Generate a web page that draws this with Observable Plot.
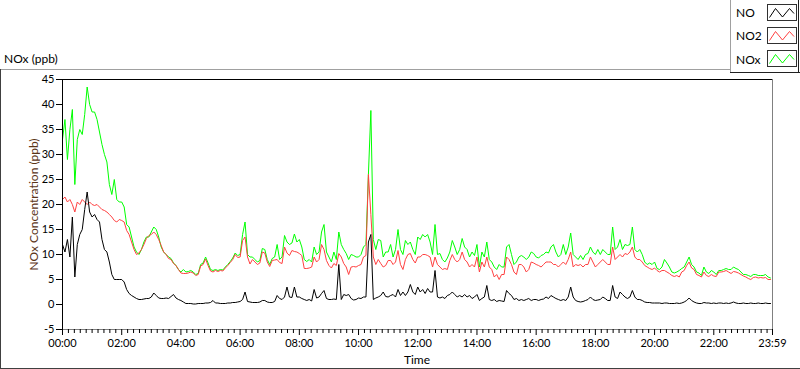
<!DOCTYPE html>
<html><head><meta charset="utf-8">
<script src="https://cdn.jsdelivr.net/npm/d3@7"></script>
<script src="https://cdn.jsdelivr.net/npm/@observablehq/plot@0.6"></script>
<style>
body{margin:0;background:#fff;}
#wrap{position:relative;width:800px;height:369px;overflow:hidden;background:#fff}
#wrap svg{position:absolute;left:0;top:0}
</style></head><body><div id="wrap"></div>
<script>
// sample times in minutes after midnight (every 5 min)
const minutes = [
0,5,10,15,20,25,30,35,40,45,50,55,60,65,70,75,80,85,90,95,100,105,110,115,
120,125,130,135,140,145,150,155,160,165,170,175,180,185,190,195,200,205,210,215,220,225,230,235,
240,245,250,255,260,265,270,275,280,285,290,295,300,305,310,315,320,325,330,335,340,345,350,355,
360,365,370,375,380,385,390,395,400,405,410,415,420,425,430,435,440,445,450,455,460,465,470,475,
480,485,490,495,500,505,510,515,520,525,530,535,540,545,550,555,560,565,570,575,580,585,590,595,
600,605,610,615,620,625,630,635,640,645,650,655,660,665,670,675,680,685,690,695,700,705,710,715,
720,725,730,735,740,745,750,755,760,765,770,775,780,785,790,795,800,805,810,815,820,825,830,835,
840,845,850,855,860,865,870,875,880,885,890,895,900,905,910,915,920,925,930,935,940,945,950,955,
960,965,970,975,980,985,990,995,1000,1005,1010,1015,1020,1025,1030,1035,1040,1045,1050,1055,1060,1065,1070,1075,
1080,1085,1090,1095,1100,1105,1110,1115,1120,1125,1130,1135,1140,1145,1150,1155,1160,1165,1170,1175,1180,1185,1190,1195,
1200,1205,1210,1215,1220,1225,1230,1235,1240,1245,1250,1255,1260,1265,1270,1275,1280,1285,1290,1295,1300,1305,1310,1315,
1320,1325,1330,1335,1340,1345,1350,1355,1360,1365,1370,1375,1380,1385,1390,1395,1400,1405,1410,1415,1420,1425,1430,1435
];
const NO = [
12,10.5,13,9.5,17.5,5.5,12,14,15,19,22.5,18.5,
17.5,18,17,16.5,13,11,10.5,8.5,6,5,5,5,
5,4.5,3,2.2,1.8,1.5,1.2,1.0,1.0,1.1,1.2,1.2,
1.5,2.3,1.8,1.3,1.2,1.2,1.3,1.2,1.6,2.0,1.3,1.0,
0.8,0.5,0.2,0.2,0.2,0.1,0.1,0.2,0.2,0.2,0.3,0.3,
0.4,0.8,0.3,0.3,0.2,0.2,0.2,0.3,0.3,0.4,0.4,0.5,
0.6,1.0,2.5,0.6,0.5,0.4,0.4,0.4,0.5,0.8,0.8,0.5,
0.4,0.4,0.6,1.8,1.2,1.0,1.5,3.5,1.5,1.4,3.5,1.5,
1.5,1.2,1.0,0.8,1.0,0.7,3.0,1.3,1.5,2.2,2.8,1.2,
1.0,1.0,1.1,1.0,8.0,1.0,2.0,1.8,2.0,1.2,0.9,1.0,
1.3,1.2,1.5,1.5,12.5,14.0,1.0,1.3,1.5,1.8,2.5,1.6,
1.5,1.8,2.0,1.5,3.0,1.8,2.5,1.8,2.5,4.0,2.5,2.0,
3.5,2.5,3.0,2.2,3.2,2.5,2.5,6.8,1.5,1.3,1.5,1.2,
1.8,2.0,2.5,2.0,1.5,1.8,1.5,2.0,1.5,1.8,1.2,1.5,
2.0,0.8,1.2,1.5,3.8,1.0,0.8,1.0,0.6,0.8,0.7,0.6,
2.8,2.2,1.8,1.0,1.2,0.8,1.0,0.8,1.0,1.2,0.8,1.0,
1.0,0.8,1.0,1.1,1.5,1.2,1.8,1.5,1.2,1.0,0.8,1.0,
0.8,1.5,3.5,1.5,0.8,0.6,0.5,0.6,0.8,1.0,1.5,1.0,
0.8,0.9,1.0,1.5,1.2,0.8,0.8,3.8,1.5,1.2,2.5,2.0,
1.5,1.2,1.5,2.8,1.5,1.0,1.0,0.8,0.5,0.4,0.4,0.3,
0.3,0.3,0.3,0.2,0.3,0.3,0.2,0.2,0.2,0.3,0.2,0.3,
0.5,0.8,1.3,0.8,0.5,0.3,0.2,0.2,0.4,0.3,0.3,0.2,
0.3,0.2,0.3,0.3,0.2,0.3,0.2,0.3,0.5,0.3,0.2,0.2,
0.3,0.2,0.2,0.3,0.2,0.2,0.3,0.2,0.2,0.3,0.2,0.2
];
const NO2 = [
21,21.5,20.5,21,20,18.5,20.5,20,21,20.5,20,20.5,
20,19.8,20,19.5,19,18.8,18.5,18,17.5,16.8,16.5,17,
16.8,16.5,14.8,14,12.5,11,10,10.3,11,12,13.2,13.8,
14,14.5,14,13,11.8,10.5,10,9.2,9,8.2,7.8,7,
6.3,6.2,6.2,6.3,6.5,6.3,5.8,6.0,7.7,8.0,9.1,7.8,
6.7,6.5,6.8,6.6,6.8,6.7,7.3,7.8,8.4,9.0,10.0,9.4,
9.5,12.8,13.5,9.5,8.1,9.0,8.5,8.0,8.3,10.5,10.3,8.5,
7.6,8.8,8.9,9.0,8.4,8.2,11.5,10.3,9.8,10.8,10.6,10.5,
10.2,9.8,7.2,7.2,7.3,7.5,9.5,8.5,9.0,12.0,11.0,8.8,
7.8,7.3,8.2,7.8,10.2,9.5,8.2,7.5,6.0,7.5,7.6,7.5,
7.8,8.0,9.5,9.8,26.0,18.0,9.5,8.0,9.0,8.2,7.5,7.8,
8.8,8.8,8.0,8.5,10.8,8.0,7.0,9.0,10.0,10.2,9.0,8.3,
9.5,9.5,10.0,10.0,9.8,9.5,7.5,9.5,8.0,7.5,7.0,7.2,
7.0,8.8,10.0,9.0,8.5,9.0,10.5,9.0,8.5,7.5,8.0,7.5,
9.5,6.5,8.5,7.5,9.5,7.5,7.0,5.5,6.0,5.0,6.0,6.0,
9.5,9.0,8.0,6.5,6.0,8.0,8.0,7.5,6.5,7.0,8.5,8.3,
8.0,7.8,7.5,8.0,8.5,8.5,8.5,8.0,8.0,7.5,8.0,8.5,
8.0,9.0,10.5,7.5,8.0,7.8,8.0,7.5,8.0,8.0,9.5,8.5,
7.5,8.0,8.5,9.0,8.5,8.0,8.0,11.5,9.0,9.5,10.0,9.5,
10.2,10.0,10.5,11.5,9.5,9.0,9.0,8.5,7.8,7.5,7.2,7.0,
7.3,6.8,6.5,6.8,6.8,6.5,6.2,5.8,5.6,5.8,5.5,6.5,
6.8,7.8,8.5,7.3,7.0,6.0,5.8,5.5,6.5,5.8,5.6,6.0,
5.7,5.6,6.5,6.5,6.6,6.8,6.5,6.2,6.6,6.5,6.3,6.0,
5.7,5.5,5.2,5.0,5.4,5.5,5.3,5.4,5.3,5.4,5.0,5.0
];
const NOx = [
33,37,29,35,39,24,33,35,34,38,43.5,40,
38.5,38.5,37,34.5,32,30,28.5,24,22,25,21,20.5,
20.5,19.5,16,15.5,13.5,11.5,10.5,10,11,12.5,13.5,13.5,
14.5,15.5,15,13.5,11.5,10.5,10,9.5,9.2,8.3,7.8,7,
6.5,7,6.5,6.6,6.8,6.5,6.0,6.2,8.0,8.3,9.5,8.3,
7.0,6.8,7.0,6.8,7.0,6.9,7.5,8.0,8.6,9.3,10.3,9.8,
10.0,14.0,16.5,10.0,9.5,9.5,9.0,8.5,8.8,11.2,11.0,9.0,
8.0,9.2,9.5,12.0,9.0,9.5,13.8,12.5,12.0,12.3,14.1,12.5,
13.0,11.5,9.0,8.6,9.0,8.5,11.5,10.0,10.5,14.5,16.0,10.5,
9.5,8.5,10.5,9.0,14.5,12.0,11.0,10.2,9.0,10.0,9.8,9.5,
9.5,10.0,11.5,12.0,26.0,38.8,13.0,11.0,13.0,12.8,9.5,10.5,
10.5,12.0,9.5,11.0,15.0,11.0,10.0,12.8,12.0,12.5,11.0,10.0,
13.5,13.0,14.0,13.5,14.0,12.5,10.0,16.0,10.0,10.2,9.0,8.5,
9.3,10.5,12.8,11.5,10.0,11.0,13.2,11.5,11.0,9.5,10.5,9.8,
12.0,7.5,10.5,9.5,12.5,9.0,8.5,7.5,7.0,8.0,7.5,7.5,
11.5,12.0,10.0,8.0,8.5,9.5,9.8,9.5,9.0,9.5,10.5,10.2,
9.5,9.3,9.8,10.0,10.5,10.3,11.5,12.0,10.5,9.5,10.0,12.0,
10.0,11.5,14.3,10.0,9.5,9.0,9.8,9.0,10.0,10.2,11.5,10.5,
10.0,11.0,10.0,11.0,10.5,10.0,10.0,15.5,11.0,11.5,13.0,11.0,
12.0,11.8,12.0,15.5,11.0,10.5,11.0,10.0,8.5,8.0,8.3,8.0,
8.5,7.2,7.0,7.5,9.0,8.3,7.5,6.5,6.3,6.5,6.8,7.2,
7.5,8.5,9.5,8.0,7.5,6.5,6.3,5.8,7.5,6.5,6.2,6.8,
6.5,6.0,6.8,6.8,7.0,7.2,7.0,7.0,7.5,7.2,7.0,6.5,
6.0,6.0,5.8,5.6,6.0,6.0,5.8,5.8,5.8,6.0,5.5,5.3
];
const seriesNames = ["NO", "NO2", "NOx"];
const seriesColors = ["#000000", "#ff4040", "#00ff00"];
const yTicks = [-5, 0, 5, 10, 15, 20, 25, 30, 35, 40, 45];
const xMajorTicks = [0, 120, 240, 360, 480, 600, 720, 840, 960, 1080, 1200, 1320, 1439];
const xTickLabels = ["00:00","02:00","04:00","06:00","08:00","10:00","12:00","14:00","16:00","18:00","20:00","22:00","23:59"];
const xMinorTicks = d3.range(0, 1440, 12).filter(m => m % 120 !== 0);
const chartTitle = "NOx (ppb)";
const yLabel = "NOx Concentration (ppb)";
const xLabel = "Time";

const rows = minutes.map((t, i) => ({t, NO: NO[i], NO2: NO2[i], NOx: NOx[i]}));
const fmt = m => xTickLabels[xMajorTicks.indexOf(m)];

const FONT = "Lato, 'Liberation Sans', sans-serif";
const chart = Plot.plot({
  width: 800, height: 369,
  marginLeft: 62, marginRight: 28, marginTop: 79, marginBottom: 40,
  x: {domain: [0, 1439]},
  y: {domain: [-5, 45]},
  style: {fontFamily: FONT, fontSize: "11px", color: "#000", background: "transparent"},
  marks: [
    Plot.line(rows, {x: "t", y: "NOx", stroke: seriesColors[2], strokeWidth: 1}),
    Plot.line(rows, {x: "t", y: "NO2", stroke: seriesColors[1], strokeWidth: 1}),
    Plot.line(rows, {x: "t", y: "NO", stroke: seriesColors[0], strokeWidth: 1}),
    Plot.ruleY([45], {stroke: "#000"}),
    Plot.ruleX([0], {stroke: "#000"}),
    Plot.ruleY([-5], {stroke: "#808080"}),
    Plot.ruleX([1439], {stroke: "#808080"}),
    Plot.axisY({ticks: yTicks, tickSize: 6, tickPadding: 2, label: null, tickFormat: d => String(d)}),
    Plot.axisX({ticks: xMinorTicks, tickSize: 4, tickFormat: () => "", label: null}),
    Plot.axisX({ticks: xMajorTicks, tickSize: 6, tickPadding: 4, tickFormat: fmt, label: null})
  ]
});
const wrap = document.getElementById("wrap");
wrap.appendChild(chart);

// overlay: panel borders, title, axis titles, legend
const svg = d3.select(wrap).append("svg").attr("width", 800).attr("height", 369)
  .style("font-family", FONT).style("pointer-events", "none");
svg.append("line").attr("x1", 0).attr("x2", 731).attr("y1", 69.5).attr("y2", 69.5).attr("stroke", "#a0a0a0");
svg.append("line").attr("x1", 0.5).attr("x2", 0.5).attr("y1", 69).attr("y2", 369).attr("stroke", "#404040");
svg.append("line").attr("x1", 0).attr("x2", 800).attr("y1", 368.5).attr("y2", 368.5).attr("stroke", "#404040");
svg.append("text").attr("x", 4).attr("y", 63).attr("font-size", 12).attr("fill", "#000").text(chartTitle);
svg.append("text").attr("transform", "translate(38,204.5) rotate(-90)").attr("text-anchor", "middle")
  .attr("font-size", 12).attr("fill", "#5a3418").text(yLabel);
svg.append("text").attr("x", 417).attr("y", 364).attr("text-anchor", "middle").attr("font-size", 12).attr("fill", "#000").text(xLabel);

// legend
const lg = svg.append("g");
lg.append("rect").attr("x", 730.5).attr("y", -1).attr("width", 68).attr("height", 73.5).attr("fill", "#fff").attr("stroke", "none");
lg.append("line").attr("x1", 730.5).attr("x2", 730.5).attr("y1", 0).attr("y2", 72).attr("stroke", "#a0a0a0");
lg.append("line").attr("x1", 730).attr("x2", 800).attr("y1", 72.5).attr("y2", 72.5).attr("stroke", "#202020");
lg.append("line").attr("x1", 798.5).attr("x2", 798.5).attr("y1", 0).attr("y2", 73).attr("stroke", "#202020");
seriesNames.forEach((name, i) => {
  const y0 = 4.5 + i * 23;
  lg.append("text").attr("x", 736).attr("y", 17 + i * 23.3).attr("font-size", 12).attr("fill", "#000").text(name);
  lg.append("rect").attr("x", 767.5).attr("y", y0).attr("width", 29).attr("height", 16)
    .attr("fill", "#fff").attr("stroke", "#303030");
  lg.append("path").attr("d", `M${769.5},${y0 + 13} L${775.5},${y0 + 4} L${782.5},${y0 + 12.5} L${789.5},${y0 + 4} L${794},${y0 + 9}`)
    .attr("fill", "none").attr("stroke", seriesColors[i]).attr("stroke-width", 1);
});
</script>
</body></html>
